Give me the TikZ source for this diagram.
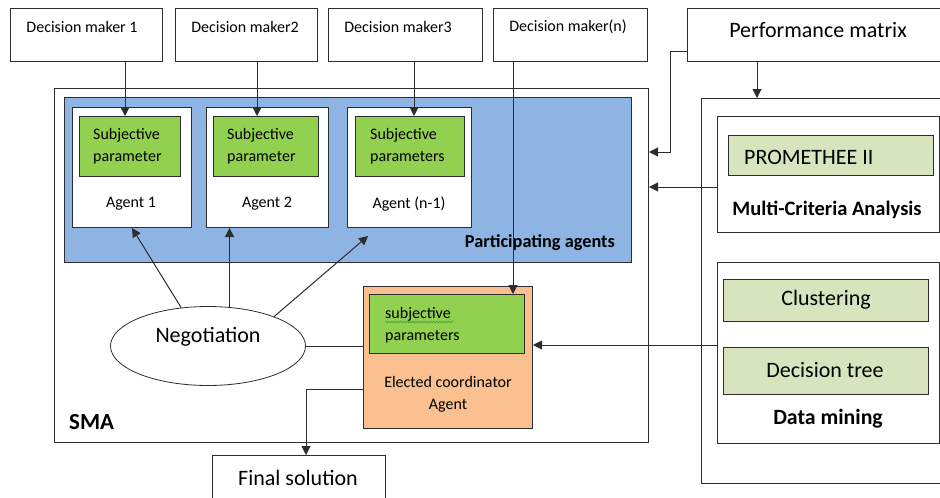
\documentclass[tikz,border=0pt]{standalone}
\usepackage{fontspec}
\setmainfont{Carlito}
\usetikzlibrary{arrows.meta,shapes.geometric,decorations.pathmorphing}

\definecolor{ink}{RGB}{45,45,45}
\definecolor{agentblue}{RGB}{141,180,226}
\definecolor{paramgreen}{RGB}{146,208,80}
\definecolor{coordorange}{RGB}{250,192,144}
\definecolor{methodgreen}{RGB}{215,228,189}
\definecolor{spellgreen}{RGB}{60,160,60}

\newcommand{\txtsmall}{\fontsize{16}{22}\selectfont}
\newcommand{\txtbig}{\fontsize{22}{26}\selectfont}

\tikzset{
  frame/.style={draw=ink, line width=1pt, anchor=north west, inner sep=0pt},
  plainbox/.style={frame, fill=white},
  groupbox/.style={frame, fill=agentblue},
  parambox/.style={frame, fill=paramgreen},
  coordbox/.style={frame, fill=coordorange},
  methodbox/.style={frame, fill=methodgreen},
  negell/.style={ellipse, draw=ink, line width=0.8pt, fill=white, inner sep=0pt},
  lbl/.style={inner sep=0pt, font=\txtsmall},
  biglbl/.style={inner sep=0pt, font=\txtbig},
  boldlbl/.style={inner sep=0pt, font=\fontsize{#1}{24}\selectfont\bfseries},
  arr/.style={draw=ink, line width=1pt, -{Triangle[length=9pt,width=9pt]}},
  link/.style={draw=ink, line width=1pt},
}

\begin{document}
\begin{tikzpicture}[x=1pt, y=-1pt]
    \useasboundingbox (0,0) rectangle (940,498);
    \clip (0,0) rectangle (940,498);
    % decision makers
    \node[plainbox, minimum width=152, minimum height=53] (dm1) at (10,8) {};
    \node[plainbox, minimum width=142, minimum height=53] (dm2) at (175,8) {};
    \node[plainbox, minimum width=154, minimum height=53] (dm3) at (328,8) {};
    \node[plainbox, minimum width=154, minimum height=53] (dmn) at (493,8) {};
    \node[lbl] (dm1txt) at (82,27) {Decision maker 1};
    \node[lbl] (dm2txt) at (245,27) {Decision maker2};
    \node[lbl] (dm3txt) at (398,27) {Decision maker3};
    \node[lbl] (dmntxt) at (568,27) {Decision maker(n)};
    \node[plainbox, minimum width=260, minimum height=53] (perf) at (687,8) {};
    \node[biglbl] (perftxt) at (818,30) {Performance matrix};
    % multi-agent system
    \node[plainbox, minimum width=594, minimum height=354] (sma) at (54,88) {};
    \node[boldlbl=23, anchor=west] (smatxt) at (69,422) {SMA};
    \node[groupbox, minimum width=567, minimum height=165] (grp) at (64,97) {};
    \node[boldlbl=18.3, anchor=east] (grptxt) at (615,243) {Participating agents};
    \node[plainbox, minimum width=119, minimum height=120] (a1) at (72,107) {};
    \node[plainbox, minimum width=122, minimum height=120] (a2) at (206,107) {};
    \node[plainbox, minimum width=124, minimum height=120] (a3) at (347,107) {};
    \node[parambox, minimum width=101, minimum height=60] (p1) at (79,116) {};
    \node[parambox, minimum width=105, minimum height=60] (p2) at (213,116) {};
    \node[parambox, minimum width=109, minimum height=60] (p3) at (355,116) {};
    \node[lbl, anchor=west, align=left] (p1txt) at (93,146) {Subjective\\parameter};
    \node[lbl, anchor=west, align=left] (p2txt) at (227,146) {Subjective\\parameter};
    \node[lbl, anchor=west, align=left] (p3txt) at (370,146) {Subjective\\parameters};
    \node[lbl] (a1txt) at (131,204) {Agent 1};
    \node[lbl] (a2txt) at (267,204) {Agent 2};
    \node[lbl] (a3txt) at (409,204) {Agent (n-1)};
    \node[negell, minimum width=195, minimum height=79] (neg) at (208,346) {};
    \node[biglbl] (negtxt) at (208,337) {Negotiation};
    \node[coordbox, minimum width=169, minimum height=142] (coord) at (363,286) {};
    \node[parambox, minimum width=155, minimum height=59] (cp) at (369,294) {};
    \node[lbl, anchor=west, align=left] (cptxt) at (385,325) {subjective\\parameters};
    \draw[spellgreen, line width=0.6pt, decorate,
          decoration={snake, amplitude=0.8pt, segment length=3pt}] (385,322) -- (453,322);
    \node[lbl, align=center] (coordtxt) at (448,394) {Elected coordinator\\Agent};
    \node[plainbox, minimum width=173, minimum height=60] (final) at (212,455) {};
    \node[biglbl] (finaltxt) at (298,478) {Final solution};
    % analysis side
    \node[plainbox, minimum width=250, minimum height=385] (rbox) at (701,98) {};
    \node[plainbox, minimum width=222, minimum height=116] (mca) at (717,116) {};
    \node[methodbox, minimum width=205, minimum height=40] (prom) at (728,135) {};
    \node[biglbl, anchor=west] (promtxt) at (744,157) {PROMETHEE II};
    \node[boldlbl=20.5] (mcatxt) at (827,210) {Multi-Criteria Analysis};
    \node[plainbox, minimum width=222, minimum height=181] (dmine) at (717,262) {};
    \node[methodbox, minimum width=205, minimum height=42] (clus) at (723,279) {};
    \node[biglbl] (clustxt) at (826,300) {Clustering};
    \node[methodbox, minimum width=205, minimum height=47] (tree) at (723,347) {};
    \node[biglbl] (treetxt) at (825,370) {Decision tree};
    \node[boldlbl=21.8] (dminetxt) at (828,419) {Data mining};
    % connectors
    \draw[arr] (125,0 |- dm1.south) -- (125,0 |- p1.north);
    \draw[arr] (257,0 |- dm2.south) -- (257,0 |- p2.north);
    \draw[arr] (414,0 |- dm3.south) -- (414,0 |- p3.north);
    \draw[arr] (513,0 |- dmn.south) -- (513,0 |- cp.north);
    \draw[arr] (perf.west |- 0,51) -- (670,51) |- (sma.east |- 0,152);
    \draw[arr] (757,0 |- perf.south) -- (757,0 |- rbox.north);
    \draw[arr] (mca.west |- 0,187) -- (sma.east |- 0,187);
    \draw[arr] (dmine.west |- 0,345) -- (coord.east |- 0,345);
    \draw[link] (neg.east) -- (coord.west |- neg.east);
    \draw[arr] (coord.west |- 0,389) -| (306,0 |- final.north);
    \draw[arr] (neg.125) -- (a1.south);
    \draw[arr] (neg.61) -- (neg.61 |- a2.south);
    \draw[arr] (neg.24) -- ([shift={(21,8)}]a3.south west);
\end{tikzpicture}
\end{document}
